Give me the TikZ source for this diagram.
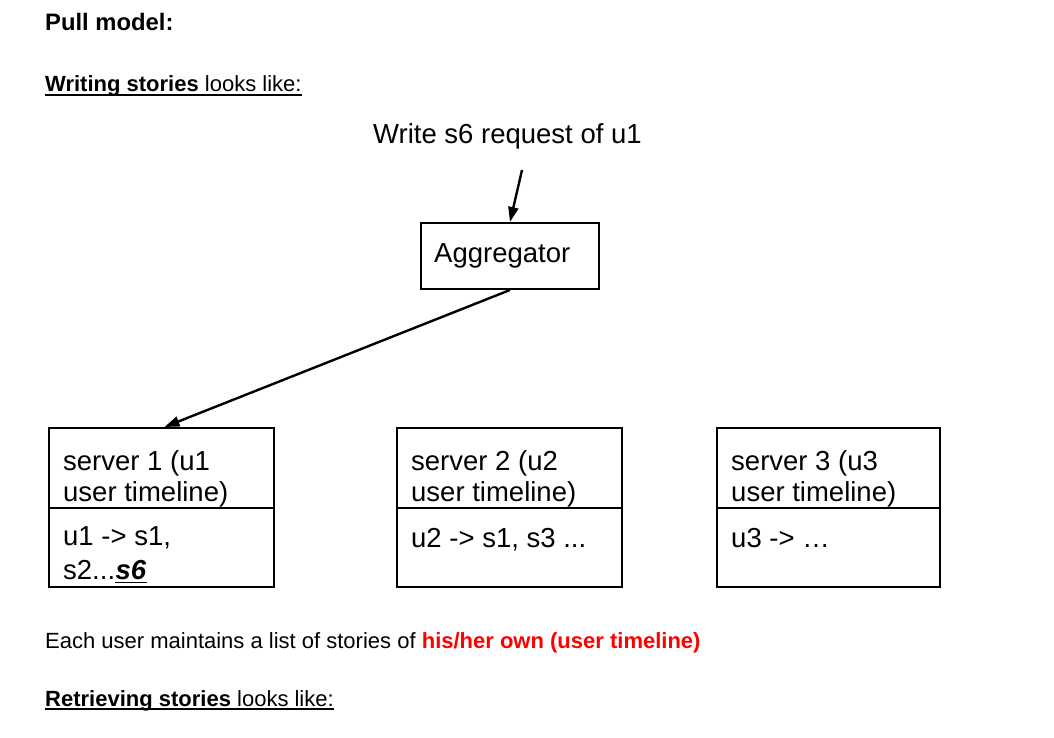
\documentclass[tikz,border=0pt]{standalone}
\usepackage{fontspec}
\setmainfont{Liberation Sans}
\usetikzlibrary{arrows.meta}
\definecolor{hlred}{RGB}{255,0,0}
\tikzset{
  txt/.style={inner sep=0pt, anchor=base west, font=\fontsize{22}{26}\selectfont},
  ttl/.style={inner sep=0pt, anchor=base west, font=\fontsize{23.8}{28}\selectfont},
  dtxt/.style={inner sep=0pt, anchor=base west, font=\fontsize{27.5}{32}\selectfont},
  box/.style={draw=black, line width=2pt, inner sep=0pt, anchor=north west},
  arr/.style={line width=2.4pt, -{Triangle[length=15pt,width=10pt]}},
  uline/.style={line width=1.6pt}
}
\begin{document}
\begin{tikzpicture}[x=1pt,y=-1pt]
\useasboundingbox (0,0) rectangle (1054,738);
\fill[white] (0,0) rectangle (1054,738);

% header texts
\node[ttl] (title) at (45,31) {\textbf{Pull model:}};
\node[txt] (w1) at (45,92) {\textbf{Writing stories} looks like:};
\draw[uline] ([yshift=-3pt]w1.base west) -- ([yshift=-3pt]w1.base east);

% request
\node[dtxt] (req) at (373,144) {Write s6 request of u1};
\coordinate (reqout) at (522,170);

% aggregator
\node[box, minimum width=178pt, minimum height=66pt] (agg) at (420,222) {};
\node[dtxt] (aggt) at (434,262) {Aggregator};

% servers
\node[box, minimum width=225pt, minimum height=80pt] (s1t) at (48,427) {};
\node[box, minimum width=225pt, minimum height=79pt] (s1b) at (48,507) {};
\node[box, minimum width=225pt, minimum height=80pt] (s2t) at (396,427) {};
\node[box, minimum width=225pt, minimum height=79pt] (s2b) at (396,507) {};
\node[box, minimum width=223pt, minimum height=80pt] (s3t) at (716,427) {};
\node[box, minimum width=223pt, minimum height=79pt] (s3b) at (716,507) {};

\node[dtxt] (s1a) at (63,470) {server 1 (u1};
\node[dtxt] (s1c) at (63,501) {user timeline)};
\node[dtxt] (s1d) at (63,545) {u1 -> s1,};
\node[dtxt] (s1e) at (63,579) {s2...};
\node[dtxt, anchor=base west] (s1f) at (s1e.base east) {\textbf{\textit{s6}}};
\draw[line width=1.6pt] ([yshift=-3.5pt]s1f.base west) -- ([yshift=-3.5pt]s1f.base east);

\node[dtxt] (s2a) at (411,470) {server 2 (u2};
\node[dtxt] (s2c) at (411,501) {user timeline)};
\node[dtxt] (s2d) at (411,547) {u2 -> s1, s3 ...};

\node[dtxt] (s3a) at (731,470) {server 3 (u3};
\node[dtxt] (s3c) at (731,501) {user timeline)};
\node[dtxt] (s3d) at (731,547) {u3 -> …};

% connectors
\draw[arr] (reqout) -- (agg.north);
\draw[arr] (agg.south) -- ([xshift=3pt]s1t.north);

% footer texts
\node[txt] (each) at (45,648) {Each user maintains a list of stories of \textcolor{hlred}{\textbf{his/her own (user timeline)}}};
\node[txt] (ret) at (45,706) {\textbf{Retrieving stories} looks like:};
\draw[uline] ([yshift=-3pt]ret.base west) -- ([yshift=-3pt]ret.base east);
\end{tikzpicture}
\end{document}
